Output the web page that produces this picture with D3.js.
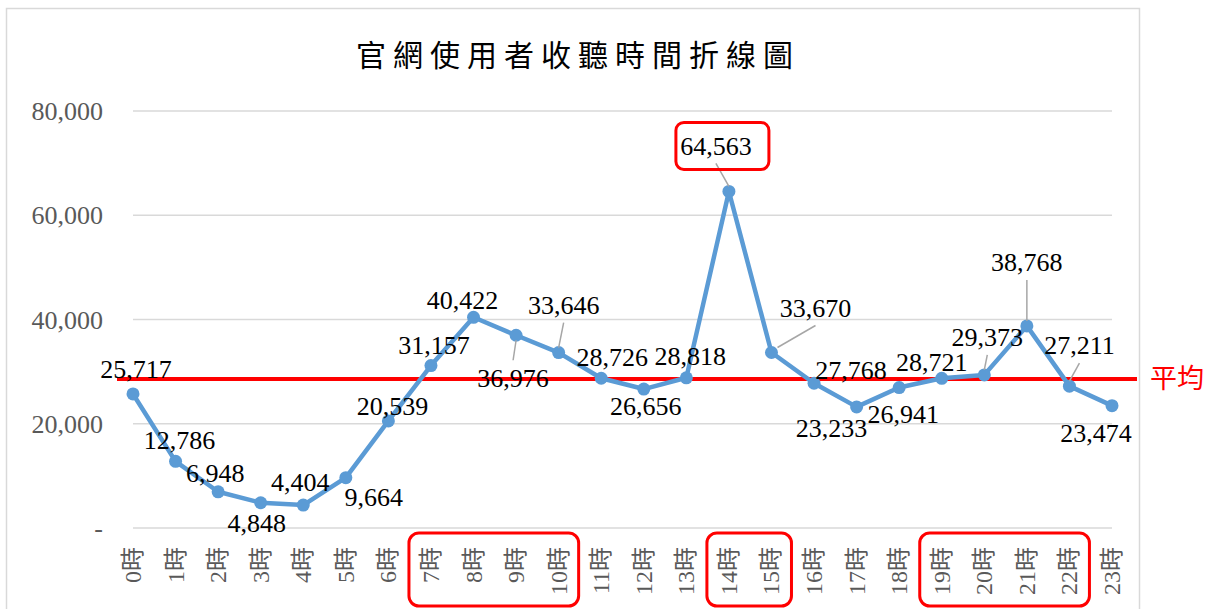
<!DOCTYPE html>
<html>
<head>
<meta charset="utf-8">
<script src="https://cdn.jsdelivr.net/npm/d3@7"></script>
<style>
  body { margin: 0; background: #fff; }
  svg { display: block; }
</style>
</head>
<body>
<svg id="chart"></svg>
<script>
// data
var hours = ["0時","1時","2時","3時","4時","5時","6時","7時","8時","9時","10時","11時",
             "12時","13時","14時","15時","16時","17時","18時","19時","20時","21時","22時","23時"];
var listeners = [25717, 12786, 6948, 4848, 4404, 9664, 20539, 31157, 40422, 36976, 33646, 28726,
                 26656, 28818, 64563, 33670, 27768, 23233, 26941, 28721, 29373, 38768, 27211, 23474];
var yTicks = [0, 20000, 40000, 60000, 80000];
var averageValue = 28600;
var titleText = "官網使用者收聽時間折線圖";
var averageText = "平均";
var highlightRanges = [[7, 10], [14, 15], [19, 22]];
var highlightLabel = 14;

// label placement, pixel offsets from each point (like the manual moves in the original)
var labelOffsets = [[3,-25],[4,-21],[-3,-19],[-4,20],[-3,-23],[28,19],[4,-15],[3,-21],[-11,-17],[-3,43],
                    [5,-48],[11,-21],[2,17],[4,-22],[-13,-46],[44,-45],[37,-13],[-25,21],[4,26],[-10,-16],
                    [3,-38],[0,-64],[10,-41],[-16,27]];
var leaderIdx = [9, 10, 14, 15, 20, 21, 22];

var width = 1210, height = 609,
    plotLeft = 133, plotRight = 1112, plotTop = 111, plotBottom = 528,
    serif = "'Liberation Serif', 'Times New Roman', 'Noto Sans CJK TC', serif",
    cjk = "'Noto Sans CJK TC', sans-serif";

var svg = d3.select("#chart").attr("width", width).attr("height", height);

svg.append("rect").attr("x", 6.5).attr("y", 8.5).attr("width", 1133).attr("height", 620)
    .attr("fill", "none").attr("stroke", "#d9d9d9").attr("stroke-width", 1.5);

var x = d3.scalePoint().domain(d3.range(hours.length)).range([plotLeft, plotRight]);
var y = d3.scaleLinear().domain([0, 80000]).range([plotBottom, plotTop]);

// title
svg.append("text").attr("x", 578).attr("y", 55).attr("dy", "0.35em")
    .attr("text-anchor", "middle").style("font-family", cjk).style("font-size", "30px")
    .style("letter-spacing", "7px").attr("fill", "#000").text(titleText);

// grid + y labels
svg.append("g").selectAll("line").data(yTicks).enter().append("line")
    .attr("x1", plotLeft).attr("x2", plotRight)
    .attr("y1", function(d){ return y(d); }).attr("y2", function(d){ return y(d); })
    .attr("stroke", "#d9d9d9").attr("stroke-width", 1.5);

svg.append("g").selectAll("text").data(yTicks).enter().append("text")
    .attr("x", 103).attr("y", function(d){ return y(d); }).attr("dy", "0.35em")
    .attr("text-anchor", "end").attr("fill", "#595959")
    .style("font-family", serif).style("font-size", "26px")
    .text(function(d){ return d === 0 ? "-" : d3.format(",")(d); });

// x labels, rotated
svg.append("g").selectAll("text").data(hours).enter().append("text")
    .attr("transform", function(d, i){ return "translate(" + (x(i) + 8) + "," + 547 + ") rotate(-90)"; })
    .attr("text-anchor", "end").attr("fill", "#595959")
    .style("font-family", serif).style("font-size", "24px")
    .text(function(d){ return d; });

// average line
svg.append("line").attr("x1", 117).attr("x2", 1137)
    .attr("y1", y(averageValue)).attr("y2", y(averageValue))
    .attr("stroke", "#ff0000").attr("stroke-width", 4);
svg.append("text").attr("x", 1150).attr("y", y(averageValue)).attr("dy", "0.35em")
    .attr("fill", "#ff0000").style("font-family", cjk).style("font-size", "27px")
    .text(averageText);

// series line + markers
var line = d3.line().x(function(d, i){ return x(i); }).y(function(d){ return y(d); });
svg.append("path").datum(listeners).attr("d", line)
    .attr("fill", "none").attr("stroke", "#5b9bd5").attr("stroke-width", 4.5)
    .attr("stroke-linejoin", "round");
svg.append("g").selectAll("circle").data(listeners).enter().append("circle")
    .attr("cx", function(d, i){ return x(i); }).attr("cy", function(d){ return y(d); })
    .attr("r", 6.5).attr("fill", "#5b9bd5");

// leader lines
svg.append("g").selectAll("line").data(leaderIdx).enter().append("line")
    .attr("x1", function(i){ return x(i) + labelOffsets[i][0]; })
    .attr("y1", function(i){ var o = labelOffsets[i][1]; return y(listeners[i]) + o + (o < 0 ? 18 : -18); })
    .attr("x2", function(i){ return x(i) + (labelOffsets[i][0] > 30 ? 6 : 0); })
    .attr("y2", function(i){ return y(listeners[i]) + (labelOffsets[i][1] < 0 ? -5 : 5); })
    .attr("stroke", "#a6a6a6").attr("stroke-width", 1.5);

// data labels
svg.append("g").selectAll("text").data(listeners).enter().append("text")
    .attr("x", function(d, i){ return x(i) + labelOffsets[i][0]; })
    .attr("y", function(d, i){ return y(d) + labelOffsets[i][1]; })
    .attr("dy", "0.35em").attr("text-anchor", "middle").attr("fill", "#000")
    .style("font-family", serif).style("font-size", "26px")
    .text(function(d){ return d3.format(",")(d); });

// red highlight boxes
svg.append("g").selectAll("rect").data(highlightRanges).enter().append("rect")
    .attr("x", function(r){ return x(r[0]) - 22; })
    .attr("width", function(r){ return x(r[1]) - x(r[0]) + 42; })
    .attr("y", 533).attr("height", 73).attr("rx", 10)
    .attr("fill", "none").attr("stroke", "#ff0000").attr("stroke-width", 3);

var hx = x(highlightLabel) + labelOffsets[highlightLabel][0],
    hy = y(listeners[highlightLabel]) + labelOffsets[highlightLabel][1];
svg.append("rect").attr("x", hx - 40).attr("y", hy - 23).attr("width", 93).attr("height", 47)
    .attr("rx", 8).attr("fill", "none").attr("stroke", "#ff0000").attr("stroke-width", 3);
</script>
</body>
</html>
